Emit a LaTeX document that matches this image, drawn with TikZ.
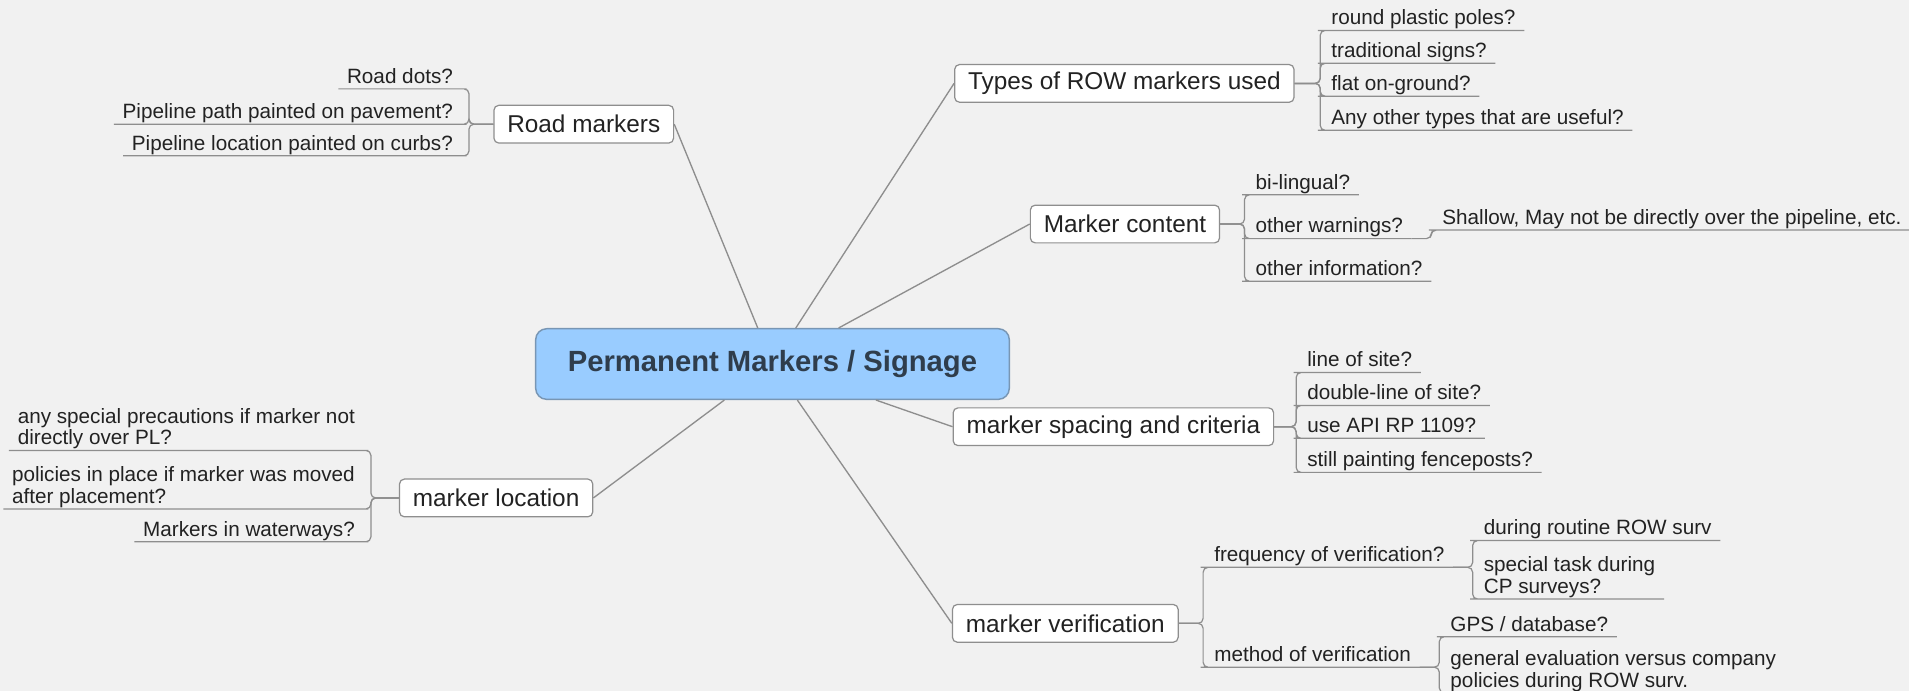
\documentclass[tikz,border=0pt]{standalone}
\usepackage{fontspec}
\setmainfont{Liberation Sans}
\usetikzlibrary{positioning}
\definecolor{paper}{HTML}{F1F1F1}
\definecolor{wire}{HTML}{8E8E8E}
\definecolor{hubfill}{HTML}{99CCFF}
\definecolor{hubline}{HTML}{7896B4}
\definecolor{hubtext}{HTML}{2F3D4C}
\definecolor{ink}{HTML}{222222}
\tikzset{
x=1pt, y=-1pt,
hub/.style={draw=hubline,fill=hubfill,rounded corners=9pt,line width=1.2pt,
  minimum width=389pt,minimum height=58pt,text=hubtext,
  font=\fontsize{24}{28}\selectfont\bfseries},
topic/.style={draw=wire,fill=white,rounded corners=4pt,line width=1pt,
  minimum height=31pt,inner xsep=11pt,text=ink,font=\fontsize{20}{24}\selectfont},
leaf/.style={inner xsep=7pt,inner ysep=1pt,text depth=3.5pt,align=left,text=ink,
  font=\fontsize{17}{17.5}\selectfont},
rleaf/.style={leaf,anchor=south west,xshift=2pt},
lleaf/.style={leaf,anchor=south east,xshift=-6pt},
limb/.style={draw=wire,line width=1.1pt},
twig/.style={draw=wire,line width=1pt,rounded corners=4pt}
}
\begin{document}
\begin{tikzpicture}
\fill[paper] (0,0) rectangle (1568,567.5);
\useasboundingbox (0,0) rectangle (1568,567.5);

% central topic and main branches
\node[hub]   (pm) at (634.5,299)   {Permanent Markers / Signage};
\node[topic] (rm) at (479.5,102)   {Road markers};
\node[topic] (ty) at (923.5,68.5)  {Types of ROW markers used};
\node[topic] (mc) at (924,184)     {Marker content};
\node[topic] (ms) at (914.5,350.5) {marker spacing and criteria};
\node[topic] (mv) at (875,512)     {marker verification};
\node[topic] (ml) at (407.5,409)   {marker location};

\foreach \br/\side in {rm/east,ty/west,mc/west,ms/west,mv/west,ml/east}
  \draw[limb] (pm) -- (\br.\side);

% bracket joints
\coordinate[left=20pt of rm]  (rmj);
\coordinate[right=21pt of ty] (tyj);
\coordinate[right=20pt of mc] (mcj);
\coordinate[right=18pt of ms] (msj);
\coordinate[right=20pt of mv] (mvj);
\coordinate[left=23pt of ml]  (mlj);

% Road markers
\node[lleaf] (rm1) at (rmj |- 0,73)  {Road dots?};
\node[lleaf] (rm2) at (rmj)          {Pipeline path painted on pavement?};
\node[lleaf] (rm3) at (rmj |- 0,128) {Pipeline location painted on curbs?};
\foreach \l in {rm1,rm2,rm3}
  \draw[twig] (rm.west) -- (rmj) |- (\l.south east) -- (\l.south west);

% Types of ROW markers
\node[rleaf] (ty1) at (tyj |- 0,25)  {round plastic poles?};
\node[rleaf] (ty2) at (tyj |- 0,52)  {traditional signs?};
\node[rleaf] (ty3) at (tyj |- 0,79)  {flat on-ground?};
\node[rleaf] (ty4) at (tyj |- 0,107) {Any other types that are useful?};
\foreach \l in {ty1,ty2,ty3,ty4}
  \draw[twig] (ty.east) -- (tyj) |- (\l.south west) -- (\l.south east);

% Marker content
\node[rleaf] (mc1) at (mcj |- 0,160) {bi-lingual?};
\node[rleaf] (mc2) at (mcj |- 0,196) {other warnings?};
\node[rleaf] (mc3) at (mcj |- 0,231) {other information?};
\foreach \l in {mc1,mc2,mc3}
  \draw[twig] (mc.east) -- (mcj) |- (\l.south west) -- (\l.south east);
\coordinate[right=16pt of mc2.south east] (mc2j);
\node[rleaf] (mc21) at (mc2j |- 0,189) {Shallow, May not be directly over the pipeline, etc.};
\draw[twig] (mc2.south east) -- (mc2j) |- (mc21.south west) -- (mc21.south east);

% marker spacing
\node[rleaf] (ms1) at (msj |- 0,306) {line of site?};
\node[rleaf] (ms2) at (msj |- 0,333) {double-line of site?};
\node[rleaf] (ms3) at (msj |- 0,360) {use API RP 1109?};
\node[rleaf] (ms4) at (msj |- 0,388) {still painting fenceposts?};
\foreach \l in {ms1,ms2,ms3,ms4}
  \draw[twig] (ms.east) -- (msj) |- (\l.south west) -- (\l.south east);

% marker verification
\node[rleaf] (fr) at (mvj |- 0,466) {frequency of verification?};
\node[rleaf] (mt) at (mvj |- 0,548) {method of verification};
\foreach \l in {fr,mt}
  \draw[twig] (mv.east) -- (mvj) |- (\l.south west) -- (\l.south east);
\coordinate[right=16pt of fr.south east] (frj);
\node[rleaf] (fr1) at (frj |- 0,444) {during routine ROW surv};
\node[rleaf] (fr2) at (frj |- 0,492) {special task during\\CP surveys?};
\foreach \l in {fr1,fr2}
  \draw[twig] (fr.south east) -- (frj) |- (\l.south west) -- (\l.south east);
\coordinate[right=16pt of mt.south east] (mtj);
\node[rleaf] (mt1) at (mtj |- 0,523) {GPS / database?};
\node[rleaf] (mt2) at (mtj |- 0,569) {general evaluation versus company\\policies during ROW surv.};
\foreach \l in {mt1,mt2}
  \draw[twig] (mt.south east) -- (mtj) |- (\l.south west) -- (\l.south east);

% marker location
\node[lleaf] (ml1) at (mlj |- 0,370) {any special precautions if marker not\\directly over PL?};
\node[lleaf] (ml2) at (mlj |- 0,418) {policies in place if marker was moved\\after placement?};
\node[lleaf] (ml3) at (mlj |- 0,445) {Markers in waterways?};
\foreach \l in {ml1,ml2,ml3}
  \draw[twig] (ml.west) -- (mlj) |- (\l.south east) -- (\l.south west);
\end{tikzpicture}
\end{document}
